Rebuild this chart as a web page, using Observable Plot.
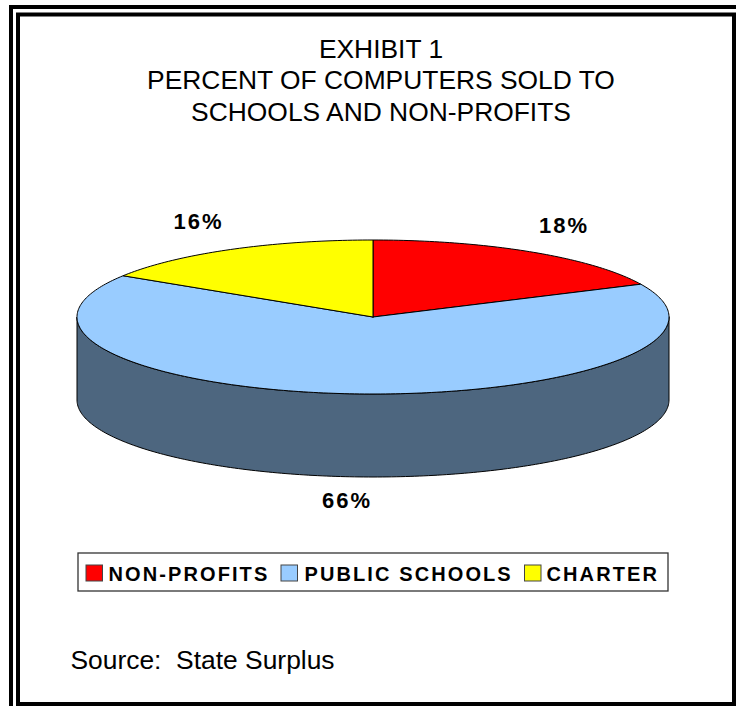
<!DOCTYPE html>
<html>
<head>
<meta charset="utf-8">
<title>Exhibit 1</title>
<script src="https://cdn.jsdelivr.net/npm/d3@7"></script>
<script src="https://cdn.jsdelivr.net/npm/@observablehq/plot@0.6"></script>
<style>
  html, body { margin: 0; padding: 0; background: #fff; }
  svg { display: block; }
  g[aria-description="slice share"] text { letter-spacing: 2px; }
  g[aria-description="legend label"] text { letter-spacing: 2.1px; }
  g[aria-description="source"] text { white-space: pre; }
</style>
</head>
<body>
<script>
// Shares of computers sold, clockwise from twelve o'clock.
const categories = ["NON-PROFITS", "PUBLIC SCHOOLS", "CHARTER"];
const shares = [18, 66, 16];
const sliceColors = ["#ff0000", "#99ccff", "#ffff00"];
const titleLines = ["EXHIBIT 1", "PERCENT OF COMPUTERS SOLD TO", "SCHOOLS AND NON-PROFITS"];
const sourceNote = "Source:  State Surplus";

// Layout of the tilted disc, in page pixels.
const disc = {cx: 372.5, cy: 316.5, rx: 296, ry: 77, depth: 83};
const wallColor = "#4d667f";
const font = "Liberation Sans, Arial, sans-serif";

const rim = (turn, drop = 0) => ({
  x: disc.cx + disc.rx * Math.sin(turn * 2 * Math.PI),
  y: disc.cy + drop - disc.ry * Math.cos(turn * 2 * Math.PI)
});

// One closed outline per slice: centre, arc, centre.
const total = d3.sum(shares);
let start = 0;
const slicePoints = categories.flatMap((name, i) => {
  const from = start;
  const to = (start += shares[i] / total);
  const steps = Math.ceil((to - from) * 360);
  const arc = d3.range(steps + 1).map((k) => rim(from + ((to - from) * k) / steps));
  return [{x: disc.cx, y: disc.cy}, ...arc, {x: disc.cx, y: disc.cy}].map((p) => ({...p, name}));
});

// Visible side of the disc: front half of the top rim, back along the bottom rim.
const frontTurns = d3.range(0.25, 0.7501, 0.0025);
const wallPoints = [
  ...frontTurns.map((t) => rim(t)),
  ...frontTurns.slice().reverse().map((t) => rim(t, disc.depth)),
  rim(0.25)
];

const shareLabels = [
  {i: 0, x: 563.5, y: 232},
  {i: 1, x: 346.5, y: 507.5},
  {i: 2, x: 198, y: 228}
].map((d) => ({...d, text: `${shares[d.i]}%`}));

const legendEntries = [
  {i: 0, swatch: 86, label: 108},
  {i: 1, swatch: 281, label: 304},
  {i: 2, swatch: 524.5, label: 546}
].map((d) => ({...d, name: categories[d.i]}));

const frames = [
  {x1: 11, y1: 7, x2: 745, y2: 715, w: 4},
  {x1: 18, y1: 14.5, x2: 734, y2: 704, w: 4}
];

const chart = Plot.plot({
  width: 736,
  height: 706,
  margin: 0,
  style: {background: "#fff", fontFamily: font, color: "#000"},
  x: {domain: [0, 736], range: [0, 736], axis: null},
  y: {domain: [0, 706], range: [0, 706], axis: null},
  color: {domain: categories, range: sliceColors},
  marks: [
    ...frames.map((f) =>
      Plot.rect([f], {x1: "x1", y1: "y1", x2: "x2", y2: "y2", fill: "none", stroke: "#000", strokeWidth: "w"})
    ),
    Plot.text(titleLines, {
      text: (d) => d,
      x: 380.5,
      y: (d, i) => 57 + i * 31.5,
      lineAnchor: "bottom",
      fontSize: 26.4,
      fill: "#000"
    }),
    Plot.line(wallPoints, {x: "x", y: "y", fill: wallColor, stroke: "#000", strokeWidth: 1}),
    Plot.line(slicePoints, {x: "x", y: "y", z: "name", fill: "name", stroke: "#000", strokeWidth: 1}),
    Plot.text(shareLabels, {
      ariaDescription: "slice share",
      x: "x",
      y: "y",
      text: "text",
      lineAnchor: "bottom",
      fontSize: 22,
      fontWeight: "bold",
      fill: "#000"
    }),
    Plot.rect([{x1: 78, x2: 668, y1: 553, y2: 591}], {
      x1: "x1", x2: "x2", y1: "y1", y2: "y2",
      fill: "#fff", stroke: "#333", strokeWidth: 1.3
    }),
    Plot.rect(legendEntries, {
      x1: "swatch",
      x2: (d) => d.swatch + 16.5,
      y1: 565,
      y2: 581,
      fill: "name",
      stroke: "#444",
      strokeWidth: 1
    }),
    Plot.text(legendEntries, {
      ariaDescription: "legend label",
      x: "label",
      y: 580.5,
      text: "name",
      textAnchor: "start",
      lineAnchor: "bottom",
      fontSize: 20,
      fontWeight: "bold",
      fill: "#000"
    }),
    Plot.text([sourceNote], {
      ariaDescription: "source",
      text: (d) => d,
      x: 70,
      y: 668,
      textAnchor: "start",
      lineAnchor: "bottom",
      fontSize: 26.4,
      fill: "#000"
    })
  ]
});
document.body.appendChild(chart);
</script>
</body>
</html>
